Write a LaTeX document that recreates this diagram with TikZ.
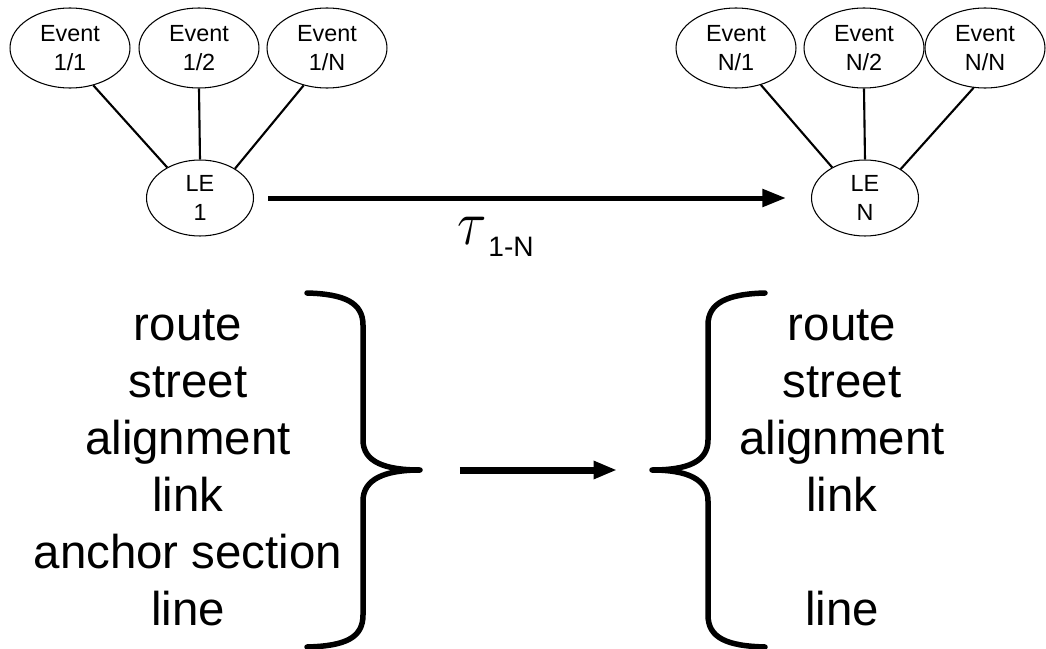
\documentclass[tikz,border=0pt]{standalone}
\usepackage{fontspec}
\setmainfont{Liberation Sans}
\usetikzlibrary{shapes.geometric,arrows.meta}

\tikzset{
  evt/.style={ellipse,draw,line width=0.6pt,minimum width=2.4cm,minimum height=1.6cm,
    inner sep=0pt,align=center,font=\fontsize{13.3}{16.5}\selectfont},
  le/.style={evt,minimum width=2.14cm,minimum height=1.52cm},
  link/.style={line width=1.2pt},
  bigarrow/.style={line width=0.1cm,-{Triangle[length=0.47cm,width=0.34cm]}},
  midarrow/.style={bigarrow,line width=0.14cm},
  brace/.style={line width=0.11cm,line cap=round,line join=round},
  biglist/.style={align=center,inner sep=0pt,anchor=north,font=\fontsize{27}{32.5}\selectfont}
}

\begin{document}
\begin{tikzpicture}[x=0.02cm,y=-0.02cm]
\useasboundingbox (0,0) rectangle (1046,649);
% first local event and its events
\node[evt] (e11) at (70,48) {Event\\1/1};
\node[evt] (e12) at (199,48) {Event\\1/2};
\node[evt] (e1n) at (327,48) {Event\\1/N};
\node[le] (le1) at (200,198) {LE\\1};
\draw[link] (e11.-58) -- (le1.137);
\draw[link] (e12.south) -- (le1.north);
\draw[link] (e1n.-122) -- (le1.40);
% last local event and its events
\node[evt] (en1) at (736,48) {Event\\N/1};
\node[evt] (en2) at (864,48) {Event\\N/2};
\node[evt] (enn) at (985,48) {Event\\N/N};
\node[le] (len) at (865,198) {LE\\N};
\draw[link] (en1.-56) -- (len.137);
\draw[link] (en2.south) -- (len.north);
\draw[link] (enn.-106) -- (len.39);
% transition
\draw[bigarrow,shorten <=0.28cm,shorten >=0.5cm] (le1) -- (len);
\node[anchor=base west,inner sep=0pt] (tau) at (457,244)
  {\fontsize{24.88}{30}\selectfont\scalebox{1.25}[1.45]{$\tau$}\kern1pt\raisebox{-7pt}{\fontsize{16}{19}\selectfont 1-N}};
% lists with braces
\node[biglist] (leftlist) at (188,309) {route\\street\\alignment\\link\\anchor section\\line};
\node[biglist] (rightlist) at (842,309) {route\\street\\alignment\\link\\~\\line};
\draw[brace] (307,293) .. controls (345,294) and (363,303) .. (363,325) -- (363,440)
  .. controls (363,462) and (385,470) .. (420,470) coordinate (ltip)
  .. controls (385,470) and (363,479) .. (363,501) -- (363,615)
  .. controls (363,638) and (345,646) .. (307,647);
\draw[brace] (765,293) .. controls (727,294) and (708,303) .. (708,325) -- (708,440)
  .. controls (708,462) and (687,470) .. (652,470) coordinate (rtip)
  .. controls (687,470) and (708,479) .. (708,501) -- (708,615)
  .. controls (708,638) and (727,646) .. (765,647);
\draw[midarrow,shorten <=0.8cm,shorten >=0.7cm] (ltip) -- (rtip);
\end{tikzpicture}
\end{document}
